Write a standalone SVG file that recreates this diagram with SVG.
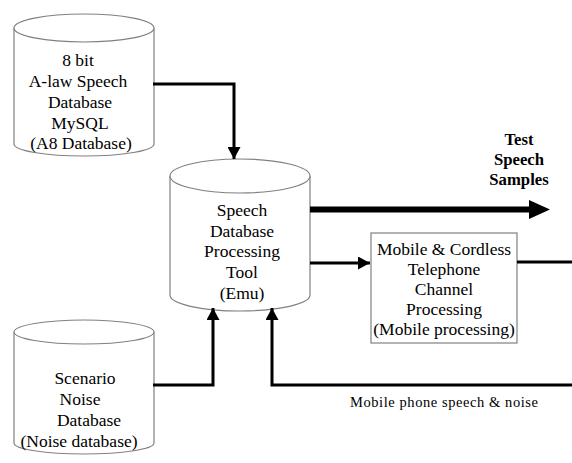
<svg xmlns="http://www.w3.org/2000/svg" width="572" height="463" viewBox="0 0 572 463">
<style>
.shape{fill:#fff;stroke:#808080;stroke-width:1.2}
.t{font-family:"Liberation Serif","Times New Roman",serif;font-size:17.5px;fill:#000;text-anchor:middle}
.b{font-weight:bold;font-size:16.7px}
.s{font-size:14.5px;text-anchor:start}
.c{fill:none;stroke:#000;stroke-width:3}
.thick{fill:none;stroke:#000;stroke-width:6}
</style>
<defs>
<marker id="ah" markerUnits="userSpaceOnUse" markerWidth="12" markerHeight="13" refX="12" refY="6.5" orient="auto">
<path d="M0,0 L12,6.5 L0,13 Z" fill="#000"/>
</marker>
</defs>
<rect width="572" height="463" fill="#fff"/>
<g id="a8db">
<path class="shape" d="M14,28 L14,144 A70,12 0 0 0 154,144 L154,28"/>
<ellipse class="shape" cx="84" cy="28" rx="70" ry="14"/>
<text class="t" x="78" y="66">8 bit</text>
<text class="t" x="78" y="87">A-law Speech</text>
<text class="t" x="80" y="108">Database</text>
<text class="t" x="80" y="129">MySQL</text>
<text class="t" x="81" y="149">(A8 Database)</text>
</g>
<g id="emu">
<path class="shape" d="M170,176 L170,295 A70,16 0 0 0 310,295 L310,176"/>
<ellipse class="shape" cx="240" cy="176" rx="70" ry="17"/>
<text class="t" x="242" y="216">Speech</text>
<text class="t" x="242" y="237">Database</text>
<text class="t" x="242" y="257">Processing</text>
<text class="t" x="242" y="278">Tool</text>
<text class="t" x="242" y="299">(Emu)</text>
</g>
<g id="noisedb">
<path class="shape" d="M14,332 L14,443 A70,11 0 0 0 154,443 L154,332"/>
<ellipse class="shape" cx="84" cy="332" rx="70" ry="12"/>
<text class="t" x="85" y="384">Scenario</text>
<text class="t" x="80" y="405">Noise</text>
<text class="t" x="89" y="426">Database</text>
<text class="t" x="79" y="447">(Noise database)</text>
</g>
<g id="mobile">
<rect class="shape" x="371" y="233" width="146" height="110"/>
<text class="t" x="444" y="255">Mobile &amp; Cordless</text>
<text class="t" x="444" y="275">Telephone</text>
<text class="t" x="444" y="295">Channel</text>
<text class="t" x="444" y="315">Processing</text>
<text class="t" x="444" y="335">(Mobile processing)</text>
</g>
<g id="labels">
<text class="t b" x="519" y="145">Test</text>
<text class="t b" x="519" y="165">Speech</text>
<text class="t b" x="519" y="185">Samples</text>
<text class="t s" x="350" y="407" textLength="188" lengthAdjust="spacing">Mobile phone speech &amp; noise</text>
</g>
<g id="connectors">
<polyline class="c" points="153,84 234,84 234,159" marker-end="url(#ah)"/>
<line class="thick" x1="310" y1="209.5" x2="530" y2="209.5"/>
<polygon points="529,200 550,209.5 529,219" fill="#000"/>
<line class="c" x1="310" y1="263" x2="370" y2="263" marker-end="url(#ah)"/>
<line class="c" x1="517" y1="262" x2="572" y2="262"/>
<polyline class="c" points="153,385 213,385 213,308" marker-end="url(#ah)"/>
<polyline class="c" points="572,385 272,385 272,308" marker-end="url(#ah)"/>
</g>
</svg>
